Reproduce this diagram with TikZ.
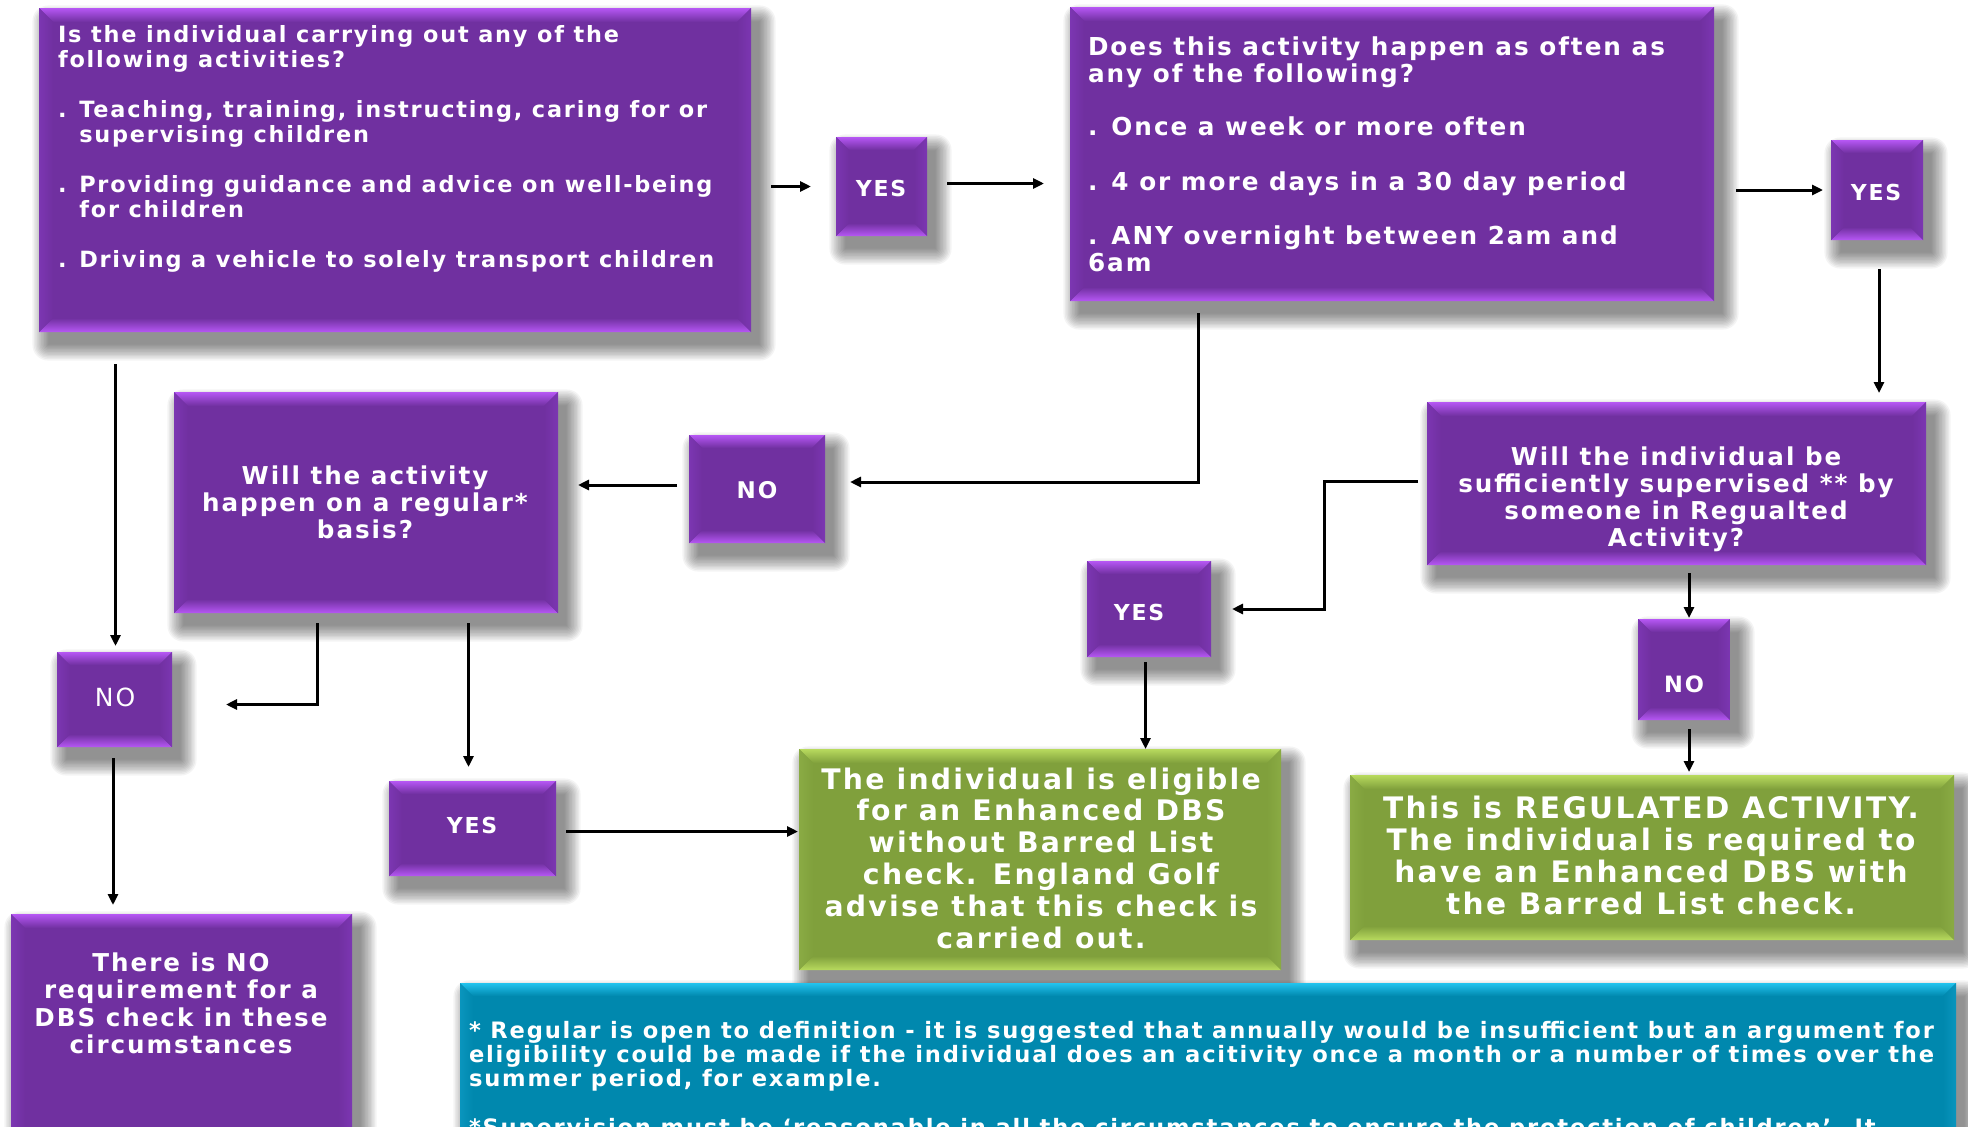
\documentclass[tikz,border=0pt]{standalone}
\usepackage{fontspec}
\newfontfamily\wf{DejaVu Sans}[LetterSpace=8]
\usetikzlibrary{arrows.meta,calc}
\definecolor{pbase}{HTML}{7030A0}
\definecolor{plight}{HTML}{B657F4}
\definecolor{pside}{HTML}{7C36B2}
\definecolor{gbase}{HTML}{80A03C}
\definecolor{glight}{HTML}{B8DA5E}
\definecolor{gside}{HTML}{8AAB44}
\definecolor{bbase}{HTML}{0088AE}
\definecolor{blight}{HTML}{22C3EE}
\definecolor{bside}{HTML}{0A95BD}
\newcommand\tf[2]{\wf\bfseries\fontsize{#1}{#2}\selectfont}
\newcommand\tfr[2]{\wf\fontsize{#1}{#2}\selectfont}
\newcommand\bevel[5]{%
 \shade[top color=#3, bottom color=#4] (#1.north west) -- (#1.north east) -- ([xshift=-#2pt,yshift=-#2pt]#1.north east) -- ([xshift=#2pt,yshift=-#2pt]#1.north west) -- cycle;
 \shade[top color=#4, bottom color=#3] (#1.south west) -- (#1.south east) -- ([xshift=-#2pt,yshift=#2pt]#1.south east) -- ([xshift=#2pt,yshift=#2pt]#1.south west) -- cycle;
 \shade[left color=#5, right color=#4] (#1.north west) -- ([xshift=#2pt,yshift=-#2pt]#1.north west) -- ([xshift=#2pt,yshift=#2pt]#1.south west) -- (#1.south west) -- cycle;
 \shade[left color=#4, right color=#5] (#1.north east) -- ([xshift=-#2pt,yshift=-#2pt]#1.north east) -- ([xshift=-#2pt,yshift=#2pt]#1.south east) -- (#1.south east) -- cycle;}
\newcommand\softshadow[1]{%
 \foreach \k in {1,...,12}{%
  \pgfmathsetmacro\e{17-\k*1.45}%
  \fill[black,opacity=0.042,rounded corners=\e pt] ($(#1.north west)+(9pt-\e pt,-13pt+\e pt)$) rectangle ($(#1.south east)+(9pt+\e pt,-13pt-\e pt)$);}}
\newcommand\mkbox[7]{%
 \node[bx,fill=#6base,minimum width=#4pt-#2pt,minimum height=#5pt-#3pt] (#1) at (#2,#3) {};}
\newcommand\finbox[3]{\bevel{#1}{#3}{#2light}{#2base}{#2side}}
\begin{document}
\begin{tikzpicture}[x=1pt,y=-1pt,
  arr/.style={line width=3pt,-{Triangle[length=11pt,width=10pt]}},
  bx/.style={rectangle,inner sep=0pt,outer sep=0pt,anchor=north west},
  txt/.style={inner sep=0pt,outer sep=0pt,text=white}]
\useasboundingbox (0,0) rectangle (1968,1127);
\fill[white] (0,0) rectangle (1968,1127);
\clip (0,0) rectangle (1968,1127);
% box geometry (nodes)
\begin{scope}[opacity=0]
\mkbox{A}{39}{8}{751}{332}{p}{14}
\mkbox{YES1}{836}{137}{927}{236}{p}{13}
\mkbox{B}{1070}{7}{1714}{301}{p}{14}
\mkbox{YES2}{1831}{140}{1923}{240}{p}{13}
\mkbox{C}{1427}{402}{1926}{565}{p}{14}
\mkbox{NO1}{689}{435}{825}{543}{p}{13}
\mkbox{D}{174}{392}{558}{613}{p}{14}
\mkbox{YES4}{1087}{561}{1211}{657}{p}{13}
\mkbox{NO2}{57}{652}{172}{747}{p}{13}
\mkbox{NO3}{1638}{619}{1730}{720}{p}{13}
\mkbox{YES3}{389}{781}{556}{876}{p}{13}
\mkbox{E}{799}{749}{1281}{970}{g}{14}
\mkbox{G}{1350}{775}{1954}{940}{g}{14}
\mkbox{F}{11}{914}{352}{1200}{p}{14}
\mkbox{H}{460}{983}{1956}{1200}{b}{13}
\end{scope}
% shadows
\foreach \n in {A,YES1,B,YES2,C,NO1,D,YES4,NO2,NO3,YES3,E,G,F,H}{\softshadow{\n}}
% faces and bevels
\foreach \n/\c/\b in {A/p/14,YES1/p/13,B/p/14,YES2/p/13,C/p/14,NO1/p/13,D/p/14,YES4/p/13,NO2/p/13,NO3/p/13,YES3/p/13,E/g/14,G/g/14,F/p/14,H/b/13}{%
  \fill[\c base] (\n.north west) rectangle (\n.south east);
  \finbox{\n}{\c}{\b}}
% texts
\node[txt,anchor=base west,font=\tf{22.4}{25}] (tA) at (58,42.7) {\begin{tabular}[t]{@{}l@{}}
Is the individual carrying out any of the\\
following activities?\\
\\
. Teaching, training, instructing, caring for or\\
\phantom{. }supervising children\\
\\
. Providing guidance and advice on well-being\\
\phantom{. }for children\\
\\
. Driving a vehicle to solely transport children\end{tabular}};
\node[txt,anchor=base west,font=\tf{24.7}{27}] (tB) at (1088,55) {\begin{tabular}[t]{@{}l@{}}
Does this activity happen as often as\\
any of the following?\\
\\
. Once a week or more often\\
\\
. 4 or more days in a 30 day period\\
\\
. ANY overnight between 2am and\\
6am\end{tabular}};
\node[txt,anchor=base,font=\tf{24.6}{27}] (tC) at (1676,465) {\begin{tabular}[t]{@{}c@{}}
Will the individual be\\
sufficiently supervised ** by\\
someone in Regualted\\
Activity?\end{tabular}};
\node[txt,anchor=base,font=\tf{24.6}{27.3}] (tD) at (365,484) {\begin{tabular}[t]{@{}c@{}}
Will the activity\\
happen on a regular*\\
basis?\end{tabular}};
\node[txt,anchor=base,font=\tf{24.6}{27.5}] (tF) at (181,971) {\begin{tabular}[t]{@{}c@{}}
There is NO\\
requirement for a\\
DBS check in these\\
circumstances\end{tabular}};
\node[txt,anchor=base,font=\tf{28.3}{31.8}] (tE) at (1041,789) {\begin{tabular}[t]{@{}c@{}}
The individual is eligible\\
for an Enhanced DBS\\
without Barred List\\
check. England Golf\\
advise that this check is\\
carried out.\end{tabular}};
\node[txt,anchor=base,font=\tf{29.6}{32}] (tG) at (1651,818.6) {\begin{tabular}[t]{@{}c@{}}
This is REGULATED ACTIVITY.\\
The individual is required to\\
have an Enhanced DBS with\\
the Barred List check.\end{tabular}};
\node[txt,anchor=base west,font=\tf{22.6}{24.3}] (tH) at (469,1038) {\begin{tabular}[t]{@{}l@{}}
* Regular is open to definition - it is suggested that annually would be insufficient but an argument for\\
eligibility could be made if the individual does an acitivity once a month or a number of times over the\\
summer period, for example.\\
\\
* *Supervision must be ‘reasonable in all the circumstances to ensure the protection of children’. It\end{tabular}};
% labels
\node[txt,anchor=base,font=\tf{22}{24}] (lY1) at (881,196) {YES};
\node[txt,anchor=base,font=\tf{22}{24}] (lY2) at (1876,200) {YES};
\node[txt,anchor=base,font=\tf{23}{24}] (lN1) at (757,498) {NO};
\node[txt,anchor=base,font=\tf{22}{24}] (lY4) at (1139,620) {YES};
\node[txt,anchor=base,font=\tfr{25}{27}] (lN2) at (115,706) {NO};
\node[txt,anchor=base,font=\tf{22.5}{24}] (lN3) at (1684,692) {NO};
\node[txt,anchor=base,font=\tf{22}{24}] (lY3) at (472,833) {YES};
% connectors
\draw[arr] ($(A.east |- YES1.west)+(20pt,0)$) -- ($(YES1.west)+(-25pt,0)$);
\draw[arr] ($(YES1.east)+(20pt,3pt)$) -- ($(B.west |- YES1.east)+(-26pt,3pt)$);
\draw[arr] ($(B.east |- YES2.west)+(22pt,0)$) -- ($(YES2.west)+(-8pt,0)$);
\draw[arr] ($(YES2.south)+(2pt,-29pt)$) -- ($(YES2.south |- C.north)+(2pt,9pt)$);
\draw[arr] ($(B.south west)+(128pt,-12pt)$) |- ($(NO1.east)+(25pt,7pt)$);
\draw[arr] ($(NO1.west)+(-12pt,4pt)$) -- ($(D.east |- NO1.west)+(20pt,4pt)$);
\draw[arr] ($(NO2.north |- A.south)+(1pt,-32pt)$) -- ($(NO2.north)+(1pt,6pt)$);
\draw[arr] ($(D.south west)+(143pt,-10pt)$) |- ($(NO2.east)+(54pt,-5pt)$);
\draw[arr] ($(YES3.north |- D.south)+(-4pt,-10pt)$) -- ($(YES3.north)+(-4pt,14pt)$);
\draw[arr] ($(YES3.east)+(10pt,-3pt)$) -- ($(E.west |- YES3.east)+(-1pt,-3pt)$);
\draw[arr] ($(NO2.south)+(-1.5pt,-11pt)$) -- ($(NO2.south |- F.north)+(-1.5pt,9pt)$);
\draw[arr] ($(C.west)+(-9pt,2.5pt)$) -- ++(-94,0) |- ($(YES4.east)+(21pt,0)$);
\draw[arr] ($(YES4.south)+(-3.5pt,-5pt)$) -- ($(YES4.south |- E.north)+(-3.5pt,0pt)$);
\draw[arr] ($(NO3.north |- C.south)+(5pt,-8pt)$) -- ($(NO3.north)+(5pt,1pt)$);
\draw[arr] ($(NO3.south)+(5pt,-9pt)$) -- ($(NO3.south |- G.north)+(5pt,3pt)$);
\end{tikzpicture}
\end{document}
